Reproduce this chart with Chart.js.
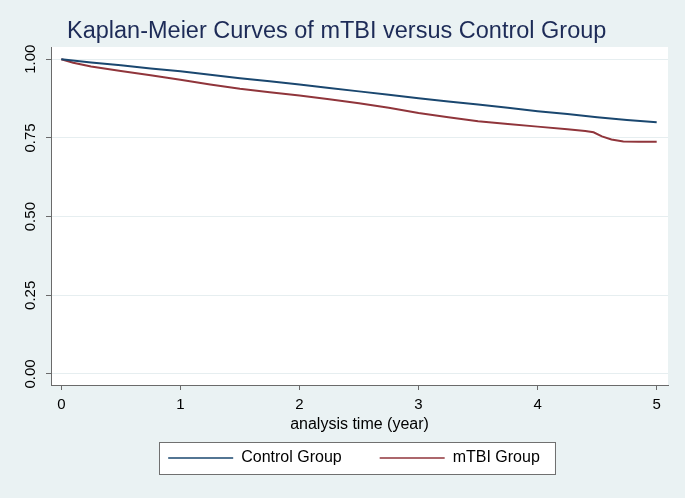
<!DOCTYPE html>
<html>
<head>
<meta charset="utf-8">
<script src="https://cdn.jsdelivr.net/npm/chart.js@4.4.1/dist/chart.umd.min.js"></script>
<style>
  html, body { margin: 0; padding: 0; background: #eaf2f3; }
  #wrap { width: 685px; height: 498px; }
</style>
</head>
<body>
<div id="wrap"><canvas id="c" width="685" height="498"></canvas></div>
<script>
// ---- data ----
const chartTitle = 'Kaplan-Meier Curves of mTBI versus Control Group';
const xAxisTitle = 'analysis time (year)';
const seriesNames = ['Control Group', 'mTBI Group'];

const controlTime = [0, 0.25, 0.5, 0.75, 1, 1.25, 1.5, 1.75, 2, 2.25, 2.5, 2.75, 3, 3.25, 3.5, 3.75, 4, 4.25, 4.5, 4.75, 5];
const controlSurv = [1.000, 0.990, 0.981, 0.971, 0.962, 0.951, 0.940, 0.930, 0.920, 0.909, 0.898, 0.887, 0.876, 0.866, 0.856, 0.846, 0.835, 0.826, 0.816, 0.807, 0.800];

const mtbiTime = [0, 0.1, 0.25, 0.5, 0.75, 1, 1.25, 1.5, 1.75, 2, 2.25, 2.5, 2.75, 3, 3.25, 3.5, 3.75, 4, 4.25, 4.4, 4.47, 4.54, 4.62, 4.72, 4.85, 5];
const mtbiSurv = [1.000, 0.989, 0.977, 0.963, 0.949, 0.935, 0.920, 0.906, 0.895, 0.885, 0.873, 0.860, 0.846, 0.829, 0.816, 0.803, 0.794, 0.786, 0.778, 0.772, 0.768, 0.755, 0.745, 0.739, 0.738, 0.738];

const xTicks = [0, 1, 2, 3, 4, 5];
const yTicks = [0, 0.25, 0.5, 0.75, 1];
const xRange = [-0.0866, 5.095];
const yRange = [-0.035, 1.039];

// ---- styles ----
const FONT = '"Liberation Sans", Arial, Helvetica, sans-serif';
const colors = ['#1a476f', '#90353b'];
const axisColor = '#6a6a6a';
const gridColor = '#e6eef0';
const bgColor = '#eaf2f3';

const toPts = (t, s) => t.map((v, i) => ({ x: v, y: s[i] }));

const bgPlugin = {
  id: 'bgPlugin',
  afterLayout(chart) {
    if (chart.titleBlock) { chart.titleBlock.left = 67; chart.titleBlock.right = 685; }
    const lg = chart.legend;
    if (lg) {
      lg.left = 40; lg.right = 668;
      const pad = lg.options.labels.padding;
      const fs = lg.options.labels.font.size;
      lg.top = 458 - fs / 2 - pad;
    }
  },
  beforeDraw(chart) {
    const { ctx, chartArea: a } = chart;
    ctx.save();
    ctx.fillStyle = bgColor;
    ctx.fillRect(0, 0, chart.width, chart.height);
    ctx.fillStyle = '#ffffff';
    ctx.fillRect(a.left, a.top, a.right - a.left, a.bottom - a.top);
    const hb = chart.legend && chart.legend.legendHitBoxes;
    if (hb && hb.length) {
      const fs = chart.legend.options.labels.font.size;
      const x0 = hb[0].left - 9;
      const x1 = hb[hb.length - 1].left + hb[hb.length - 1].width + 15;
      const yc = hb[0].top + fs / 2;
      ctx.fillStyle = '#ffffff';
      ctx.fillRect(x0, yc - 16, x1 - x0, 32);
      ctx.strokeStyle = '#707070';
      ctx.lineWidth = 1;
      ctx.strokeRect(Math.round(x0) + 0.5, Math.round(yc - 16) + 0.5, Math.round(x1 - x0), 32);
    }
    ctx.restore();
  }
};

new Chart(document.getElementById('c'), {
  type: 'line',
  data: {
    datasets: [
      { label: seriesNames[0], data: toPts(controlTime, controlSurv), borderColor: colors[0], backgroundColor: colors[0], borderWidth: 2, pointRadius: 0, tension: 0, fill: false },
      { label: seriesNames[1], data: toPts(mtbiTime, mtbiSurv), borderColor: colors[1], backgroundColor: colors[1], borderWidth: 2, pointRadius: 0, tension: 0, fill: false }
    ]
  },
  options: {
    responsive: false,
    animation: false,
    layout: { padding: { left: 0, right: 17, top: 0, bottom: 0 } },
    plugins: {
      title: {
        display: true, text: chartTitle, align: 'start', color: '#1d2b57',
        font: { family: FONT, size: 23.5, weight: 'normal', lineHeight: 1.0 },
        padding: { top: 20, bottom: 3.5 }
      },
      legend: {
        display: true, position: 'bottom',
        labels: {
          usePointStyle: true, pointStyle: 'line', pointStyleWidth: 65,
          padding: 38, color: '#000',
          font: { family: FONT, size: 16 },
          generateLabels(chart) {
            return Chart.defaults.plugins.legend.labels.generateLabels(chart).map(l => Object.assign(l, { lineWidth: 1.5 }));
          }
        }
      },
      tooltip: { enabled: false }
    },
    scales: {
      x: {
        type: 'linear', min: xRange[0], max: xRange[1],
        afterBuildTicks: s => { s.ticks = xTicks.map(v => ({ value: v })); },
        afterFit: s => { s.height = 49; },
        ticks: { padding: 6, color: '#000', autoSkip: false, maxRotation: 0, font: { family: FONT, size: 15 }, callback: v => String(v) },
        grid: { drawOnChartArea: false, drawTicks: true, tickLength: 5, tickColor: axisColor },
        border: { display: true, color: axisColor, width: 1 },
        title: { display: true, text: xAxisTitle, color: '#000', font: { family: FONT, size: 16 }, padding: { top: 0, bottom: 0 } }
      },
      y: {
        type: 'linear', min: yRange[0], max: yRange[1],
        afterBuildTicks: s => { s.ticks = yTicks.map(v => ({ value: v })); },
        afterFit: s => { s.width = 51; },
        ticks: { minRotation: 90, maxRotation: 90, autoSkip: false, crossAlign: 'center', padding: 1, color: '#000', font: { family: FONT, size: 15 }, callback: v => Number(v).toFixed(2) },
        grid: { color: gridColor, lineWidth: 1, drawTicks: true, tickLength: 5, tickColor: axisColor },
        border: { display: true, color: axisColor, width: 1 }
      }
    }
  },
  plugins: [bgPlugin]
});
</script>
</body>
</html>
